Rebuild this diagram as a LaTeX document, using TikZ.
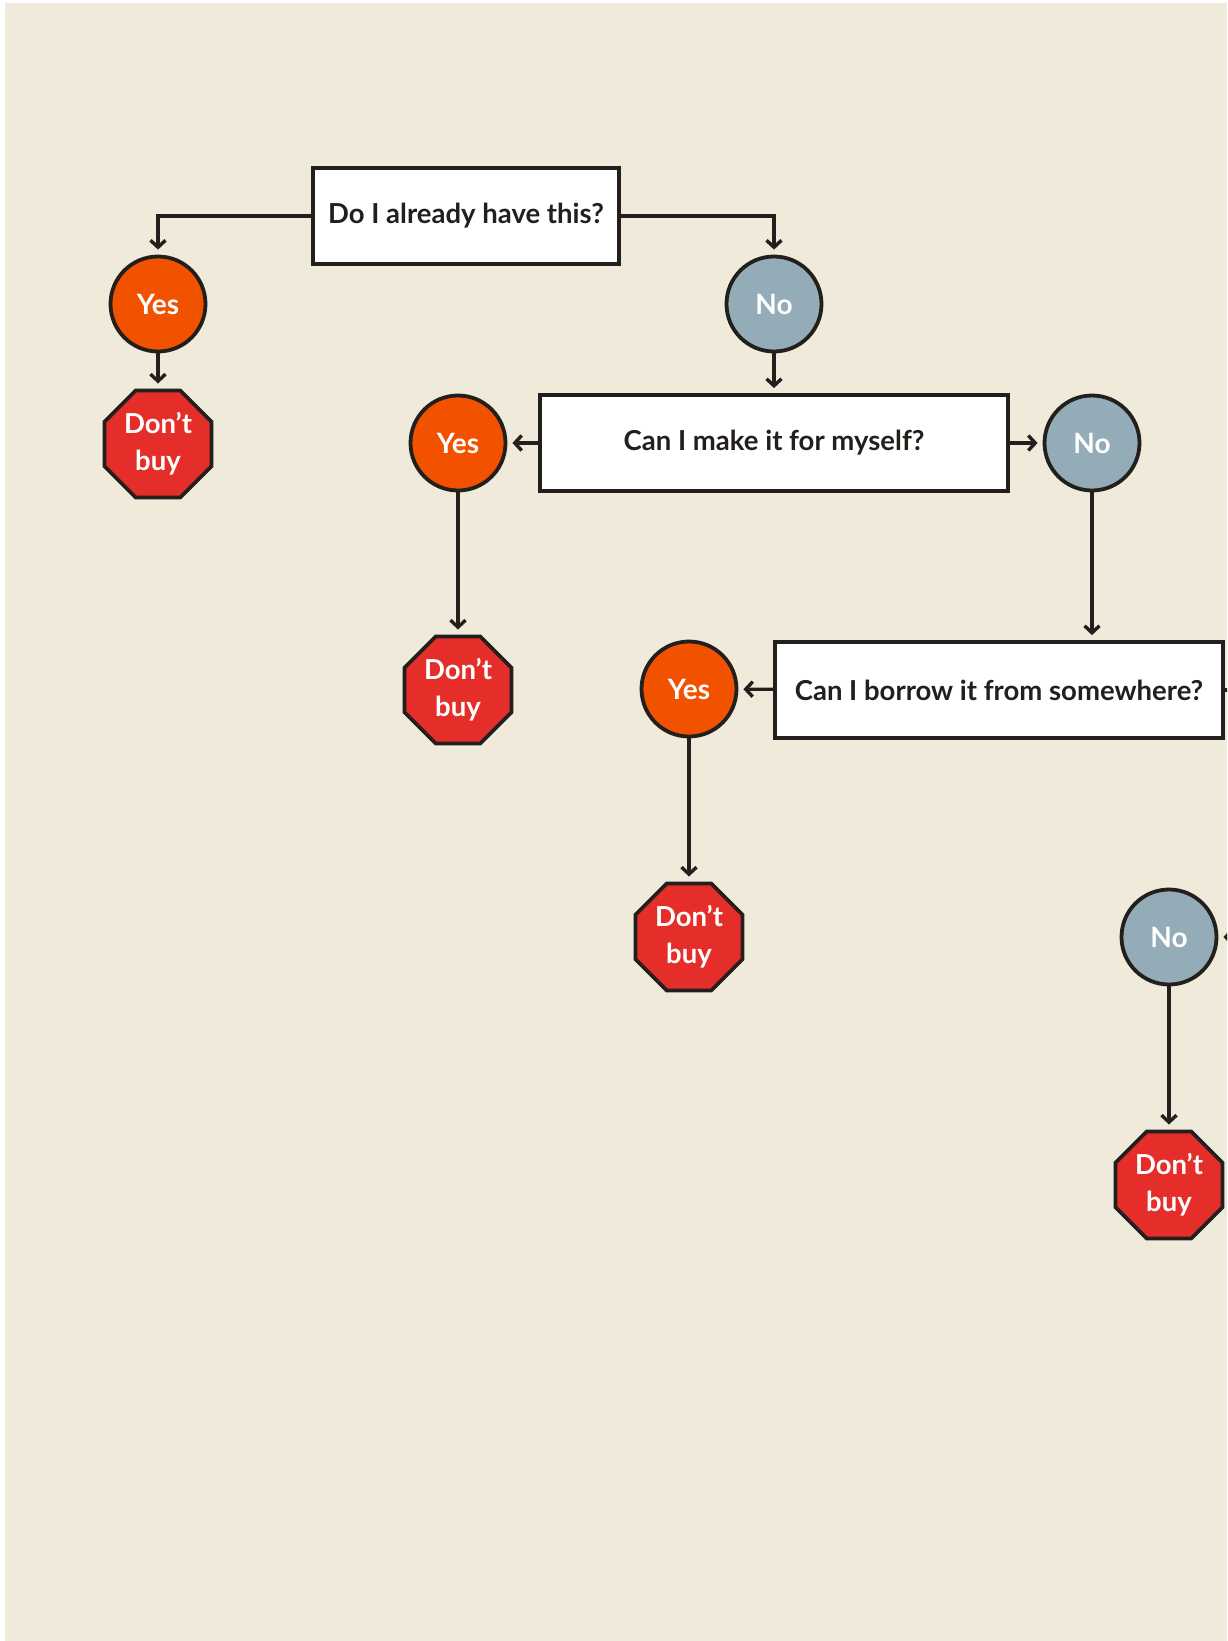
\documentclass[tikz,border=0pt]{standalone}
\usepackage{fontspec}
\setmainfont{Lato}
\usetikzlibrary{shapes.geometric,arrows.meta}
\definecolor{bgc}{RGB}{240,234,219}
\definecolor{yesc}{RGB}{242,82,0}
\definecolor{noc}{RGB}{147,172,183}
\definecolor{stopc}{RGB}{229,46,41}
\definecolor{inkc}{RGB}{35,31,28}
\tikzset{
  qbox/.style={draw=inkc,line width=3.8pt,fill=white,inner sep=0pt,minimum height=96pt,text=inkc,font=\bfseries\fontsize{27.5}{32}\selectfont},
  yesnode/.style={circle,draw=inkc,line width=3.8pt,fill=yesc,minimum size=95pt,inner sep=0pt,text=white,font=\bfseries\fontsize{28}{32}\selectfont},
  nonode/.style={yesnode,fill=noc},
  stopnode/.style={regular polygon,regular polygon sides=8,draw=inkc,line width=3.8pt,fill=stopc,minimum size=116pt,inner sep=0pt,text=white,align=center,font=\bfseries\fontsize{27.5}{37}\selectfont},
  conn/.style={draw=inkc,line width=3.4pt,-{Straight Barb[length=7pt,width=15pt,line width=3.4pt]},shorten >=5pt}
}
\begin{document}
\begin{tikzpicture}[x=1pt,y=-1pt]
\useasboundingbox (0,0) rectangle (1227,1641);
\clip (0,0) rectangle (1227,1641);
\fill[white] (0,0) rectangle (1227,1641);
\fill[bgc] (5,3) rectangle (1227,1641);

\node[qbox,minimum width=306pt] (q1) at (466,216) {Do I already have this?};
\node[yesnode] (y1) at (158,304) {Yes};
\node[stopnode] (s1) at (158,444) {Don’t\\buy};
\node[nonode] (n1) at (774,304) {No};

\node[qbox,minimum width=468pt] (q2) at (774,443) {Can I make it for myself?};
\node[yesnode] (y2) at (458,443) {Yes};
\node[nonode] (n2) at (1092,443) {No};
\node[stopnode] (s2) at (458,690) {Don’t\\buy};

\node[qbox,minimum width=448pt] (q3) at (999,690) {Can I borrow it from somewhere?};
\node[yesnode] (y3) at (689,689) {Yes};
\node[stopnode] (s3) at (689,937) {Don’t\\buy};

\node[nonode] (n3) at (1169,937) {No};
\node[stopnode] (s4) at (1169,1185) {Don’t\\buy};

\coordinate (offq3) at (1300,690);
\coordinate (offn3) at (1300,937);

\draw[conn] (q1.west) -| (y1.north);
\draw[conn] (q1.east) -| (n1.north);
\draw[conn] (y1) -- (s1);
\draw[conn] (n1) -- (q2);
\draw[conn] (q2) -- (y2);
\draw[conn] (q2) -- (n2);
\draw[conn] (y2) -- (s2);
\draw[conn] (n2) -- (n2 |- q3.north);
\draw[conn] (q3) -- (y3);
\draw[conn] (y3) -- (s3);
\draw[conn] (n3) -- (s4);
\draw[draw=inkc,line width=3.4pt] (q3.east) -- (offq3);
\draw[conn] (offn3) -- (n3);
\end{tikzpicture}
\end{document}
